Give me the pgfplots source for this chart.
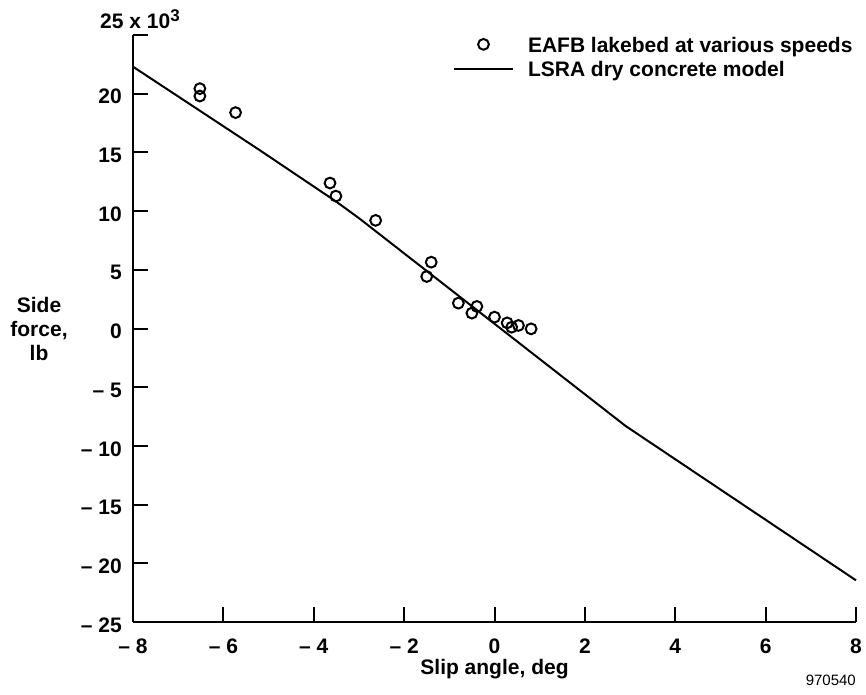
\documentclass[border=0pt]{standalone}
\usepackage{fontspec}
\setmainfont{Liberation Sans}
\usepackage{pgfplots}
\pgfplotsset{compat=1.18}
\newcommand{\lbl}{\bfseries\fontsize{21}{24}\selectfont}
\pgfplotsset{
 legcirc/.style={legend image code/.code={\path (0pt,0pt) (59pt,0pt); \draw[##1, yshift=1pt] plot coordinates {(29.5pt,0pt)};}},
 legline/.style={legend image code/.code={\draw[##1, yshift=1pt] (0pt,0pt) -- (59pt,0pt);}},
}
\begin{document}
\begin{tikzpicture}
\useasboundingbox (0,0) rectangle (866pt,694pt);
\begin{axis}[
 at={(133pt,72pt)}, anchor=south west,
 width=723pt, height=587pt, scale only axis,
 xmin=-8, xmax=8, ymin=-25, ymax=25,
 axis x line*=bottom, axis y line*=left,
 axis line style={line width=2pt},
 tick align=inside, major tick length=15pt,
 tick style={line width=2pt, black},
 xtick={-8,-6,...,8},
 xticklabels={{– 8},{– 6},{– 4},{– 2},0,2,4,6,8},
 ytick={-25,-20,...,25},
 yticklabels={{– 25},{– 20},{– 15},{– 10},{– 5},0,5,10,15,20,{}},
 ticklabel style={font=\lbl, inner sep=0pt},
 xticklabel style={anchor=base, yshift=-31pt},
 yticklabel style={anchor=east, xshift=-11pt, yshift=-3pt},
 xlabel={Slip angle, deg},
 xlabel style={at={(axis description cs:0.5,0)}, anchor=base, yshift=-52pt, font=\lbl, inner sep=0pt},
 clip=false,
 legend style={at={(rel axis cs:0.4426,1)}, anchor=north west, yshift=-2pt,
   draw=none, fill=none, inner sep=0pt, outer sep=0pt, font=\lbl,
   row sep=8pt, column sep=0pt, nodes={inner sep=0pt},
   /tikz/every odd column/.append style={column sep=14pt}},
 legend cell align=left,
]
\addplot[only marks, mark=o, mark size=5.4pt, line width=2pt, black, legcirc]
 coordinates {
 (-6.52,20.43) (-6.52,19.8) (-5.73,18.39) (-3.64,12.39) (-3.51,11.28)
 (-2.63,9.21) (-1.40,5.65) (-1.50,4.43) (-0.80,2.16) (-0.39,1.88)
 (-0.50,1.31) (0.0,0.97) (0.28,0.48) (0.38,0.11) (0.53,0.26) (0.81,-0.03)
 };
\addlegendentry{EAFB lakebed at various speeds}
\addplot[black, line width=2pt, no marks, legline]
 coordinates {
 (-8,22.3) (-5.2,15.2) (-3.5,10.8) (-3.0,9.4) (0,0.4) (2.9,-8.3) (8,-21.45)
 };
\addlegendentry{LSRA dry concrete model}
\node[anchor=base west, inner sep=0pt, xshift=-33pt, yshift=6pt, font=\lbl] at (rel axis cs:0,1) {25 x 10\raisebox{7.5pt}{\fontsize{17}{17}\selectfont 3}};
\node[anchor=center, align=center, font=\lbl, inner sep=0pt, xshift=-94pt] at (rel axis cs:0,0.5) {Side\\force,\\lb};
\node[anchor=base east, inner sep=0pt, yshift=-63pt, font=\fontsize{15}{18}\selectfont] at (rel axis cs:1,0) {970540};
\end{axis}
\end{tikzpicture}
\end{document}
